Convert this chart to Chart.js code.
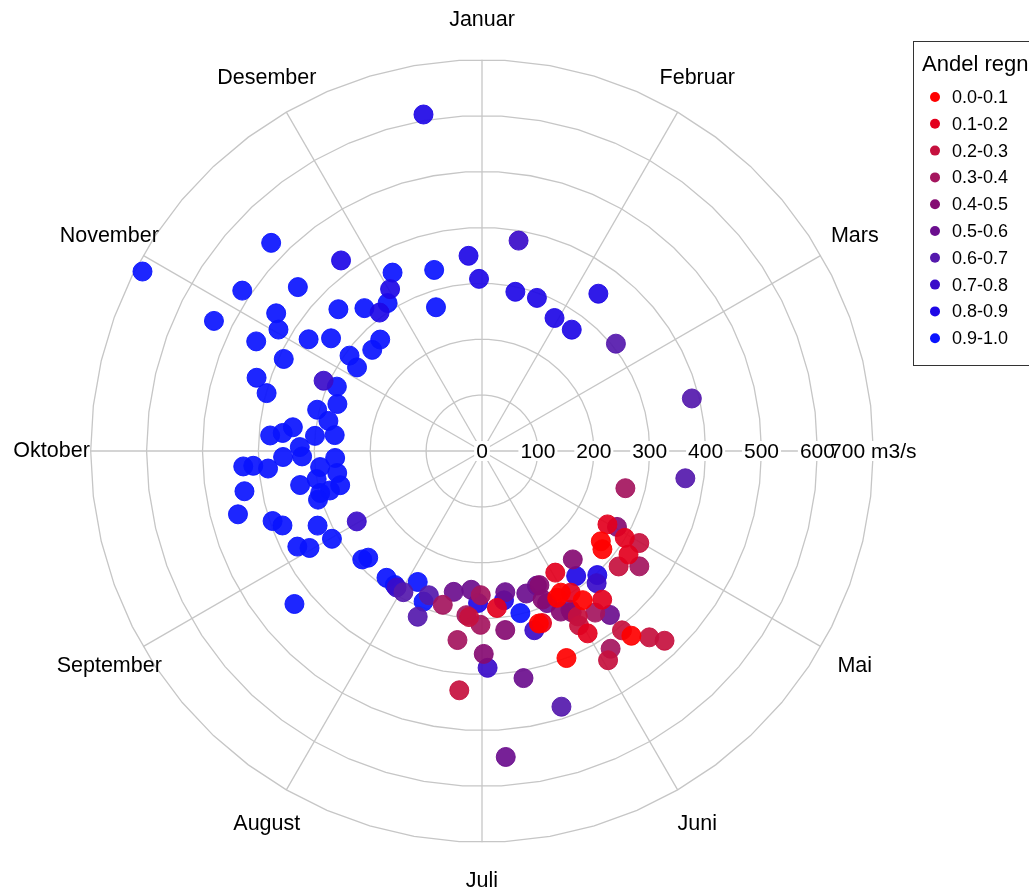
<!DOCTYPE html>
<html>
<head>
<meta charset="utf-8">
<script src="https://cdn.jsdelivr.net/npm/chart.js@4.4.1/dist/chart.umd.min.js"></script>
<style>
  html, body { margin: 0; padding: 0; background: #fff; }
  #c { display: block; }
</style>
</head>
<body>
<canvas id="c" width="1029" height="894"></canvas>
<script>
// Vannføring (m3/s) etter dag i året, gruppert på andel regn
var maaneder = ["Januar", "Februar", "Mars", "April", "Mai", "Juni",
  "Juli", "August", "September", "Oktober", "November", "Desember"];
var ringVerdier = [0, 100, 200, 300, 400, 500, 600, 700];
var klasser = ["0.0-0.1", "0.1-0.2", "0.2-0.3", "0.3-0.4", "0.4-0.5",
  "0.5-0.6", "0.6-0.7", "0.7-0.8", "0.8-0.9", "0.9-1.0"];
var farger = ["#FF0000", "#E3001E", "#C5103E", "#A4155E", "#850B72",
  "#6B0E8E", "#5519AD", "#3A0CC9", "#1E08E6", "#0A14FF"];

var dag00 = [129, 131, 143, 148, 153, 155, 160, 164];
var q00 = [267, 278, 425, 322, 290, 295, 400, 325];

var dag01 = [122, 123, 127, 143, 150, 151, 152, 163, 177];
var q01 = [260, 299, 321, 342, 299, 254, 377, 326, 282];

var dag02 = [122, 132, 138, 140, 144, 151, 152, 153, 187, 188];
var q02 = [326, 320, 471, 448, 407, 437, 342, 357, 298, 430];

var dag03 = [106, 128, 147, 149, 183, 183, 188, 190, 197];
var q03 = [265, 349, 353, 422, 258, 311, 295, 341, 284];

var dag04 = [121, 142, 153, 156, 159, 160, 175, 182];
var q04 = [277, 253, 330, 320, 261, 287, 323, 363];

var dag05 = [144, 153, 159, 160, 165, 172, 173, 178, 187, 194];
var q05 = [372, 325, 296, 260, 267, 413, 256, 549, 249, 257];

var dag06 = [52, 77, 99, 165, 203, 204, 212];
var q06 = [307, 387, 367, 479, 275, 318, 289];

var dag07 = [10, 141, 166, 181, 215, 244, 298];
var q07 = [382, 313, 334, 388, 288, 257, 310];

var dag08 = [12, 20, 29, 37, 37, 139, 145, 174, 184, 328, 328, 335, 355, 361, 364];
var q08 = [291, 291, 271, 270, 350, 303, 280, 270, 272, 424, 308, 333, 611, 350, 308];

var dag09 = [302, 319, 338, 332, 325, 319, 316, 308, 300, 308, 305, 300, 307, 311,
  322, 350, 347, 310, 308, 317, 299, 292, 289, 298, 292, 288, 285, 280, 281, 279,
  278, 279, 275, 272, 272, 271, 268, 265, 264, 260, 263, 259, 270, 270, 269, 259,
  257, 264, 259, 255, 253, 249, 243, 246, 244, 230, 231, 220, 234, 209, 204, 216, 169];
var q09 = [687, 530, 357, 314, 331, 361, 441, 516, 533, 443, 424, 449, 369, 337,
  270, 335, 270, 292, 269, 267, 391, 424, 399, 284, 272, 304, 280, 265, 341, 358,
  380, 300, 326, 356, 322, 263, 291, 262, 300, 261, 331, 299, 428, 410, 384, 281,
  306, 431, 451, 395, 381, 323, 311, 372, 354, 279, 289, 284, 433, 261, 289, 286, 298];

var dagListe = [dag00, dag01, dag02, dag03, dag04, dag05, dag06, dag07, dag08, dag09];
var qListe = [q00, q01, q02, q03, q04, q05, q06, q07, q08, q09];

var FONT = '"Liberation Sans", Arial, Helvetica, sans-serif';

function tilPunkter(dager, verdier) {
  return dager.map(function (d, i) {
    var a = d / 365 * 2 * Math.PI;
    return { x: verdier[i] * Math.sin(a), y: verdier[i] * Math.cos(a) };
  });
}

function hexAlpha(hex, a) {
  var n = parseInt(hex.slice(1), 16);
  return "rgba(" + (n >> 16) + "," + ((n >> 8) & 255) + "," + (n & 255) + "," + a + ")";
}

var datasets = klasser.map(function (k, i) {
  return {
    label: k,
    data: tilPunkter(dagListe[i], qListe[i]),
    backgroundColor: hexAlpha(farger[i], 0.92),
    borderColor: hexAlpha(farger[i], 0.92),
    borderWidth: 1,
    pointRadius: 9.5,
    pointHoverRadius: 9.5,
  };
});

// polar grid, month labels and radial tick labels
var polarGrid = {
  id: "polarGrid",
  beforeDatasetsDraw: function (chart) {
    var ctx = chart.ctx;
    var xs = chart.scales.x, ys = chart.scales.y;
    function pt(v, ang) {
      return [xs.getPixelForValue(v * Math.sin(ang)), ys.getPixelForValue(v * Math.cos(ang))];
    }
    var maks = ringVerdier[ringVerdier.length - 1];
    ctx.save();
    ctx.strokeStyle = "#c6c6c6";
    ctx.lineWidth = 1.3;

    var sider = 54;
    ringVerdier.forEach(function (v) {
      if (v === 0) return;
      ctx.beginPath();
      for (var k = 0; k <= sider; k++) {
        var p = pt(v, (k + 0.5) / sider * 2 * Math.PI);
        if (k === 0) ctx.moveTo(p[0], p[1]); else ctx.lineTo(p[0], p[1]);
      }
      ctx.stroke();
    });

    maaneder.forEach(function (m, i) {
      var a = i / 12 * 2 * Math.PI;
      var p0 = pt(0, a), p1 = pt(maks, a);
      ctx.beginPath();
      ctx.moveTo(p0[0], p0[1]);
      ctx.lineTo(p1[0], p1[1]);
      ctx.stroke();
    });

    ctx.fillStyle = "#000";
    ctx.font = "21.5px " + FONT;
    ctx.textAlign = "center";
    ctx.textBaseline = "middle";
    maaneder.forEach(function (m, i) {
      if (i === 3) return; // April sits under the radial axis labels
      var p = pt(maks * 1.1, i / 12 * 2 * Math.PI);
      ctx.fillText(m, p[0], p[1]);
    });

    ctx.font = "21px " + FONT;
    var tekster = ringVerdier.map(function (v, i) {
      return i === ringVerdier.length - 1 ? v + " m3/s" : String(v);
    });
    ctx.fillStyle = "#fff";
    ringVerdier.forEach(function (v, i) {
      var p = pt(v, Math.PI / 2);
      var w = ctx.measureText(tekster[i]).width;
      ctx.fillRect(p[0] - w / 2 - 2, p[1] - 10, w + 4, 20);
    });
    ctx.fillStyle = "#000";
    ringVerdier.forEach(function (v, i) {
      var p = pt(v, Math.PI / 2);
      ctx.fillText(tekster[i], p[0], p[1] + 1);
    });
    ctx.restore();
  },
  afterDraw: function (chart) {
    var ctx = chart.ctx;
    ctx.save();
    ctx.strokeStyle = "#333";
    ctx.lineWidth = 1;
    ctx.strokeRect(913.5, 41.5, 140, 324);
    ctx.fillStyle = "#000";
    ctx.textAlign = "left";
    ctx.textBaseline = "middle";
    ctx.font = "22px " + FONT;
    ctx.fillText("Andel regn", 922, 65);
    ctx.font = "18px " + FONT;
    chart.data.datasets.forEach(function (ds, i) {
      var y = 97 + i * 26.8;
      ctx.beginPath();
      ctx.arc(935, y, 5, 0, 2 * Math.PI);
      ctx.fillStyle = farger[i];
      ctx.fill();
      ctx.fillStyle = "#000";
      ctx.fillText(ds.label, 952, y + 1);
    });
    ctx.restore();
  },
};

var PX = 0.559;   // pixels per m3/s
var CX = 482, CY = 451;

new Chart(document.getElementById("c"), {
  type: "scatter",
  data: { datasets: datasets },
  options: {
    responsive: false,
    animation: false,
    devicePixelRatio: 1,
    layout: { padding: 0, autoPadding: false },
    scales: {
      x: { display: false, min: -CX / PX, max: (1029 - CX) / PX },
      y: { display: false, min: -(894 - CY) / PX, max: CY / PX },
    },
    plugins: {
      legend: { display: false },
      tooltip: { enabled: false },
    },
  },
  plugins: [polarGrid],
});
</script>
</body>
</html>
